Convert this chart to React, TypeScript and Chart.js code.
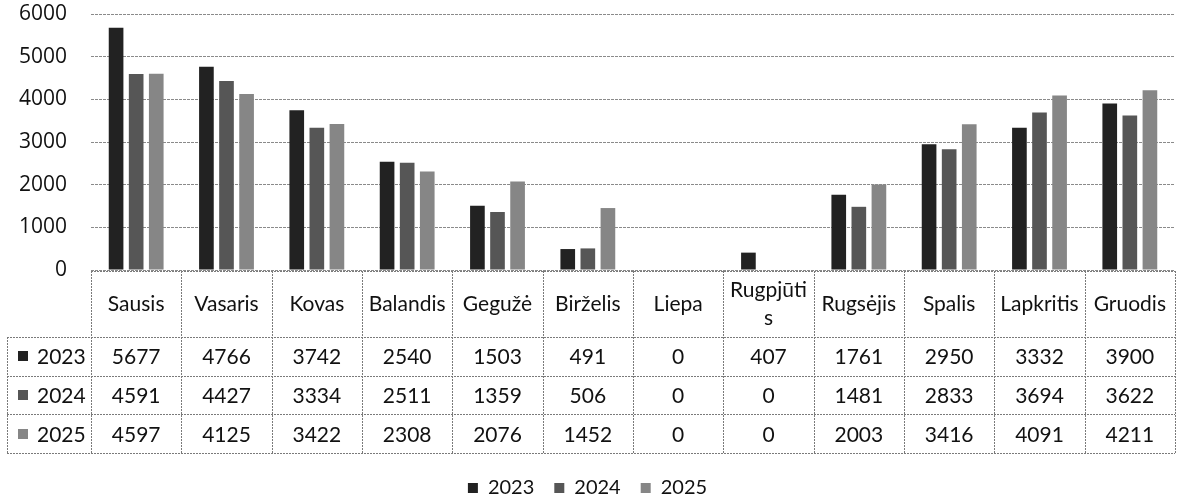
import React, { useEffect, useRef } from "react";
import { Chart, registerables } from "chart.js";

Chart.register(...registerables);

const categories = ["Sausis", "Vasaris", "Kovas", "Balandis", "Gegužė", "Birželis", "Liepa", "Rugpjūtis", "Rugsėjis", "Spalis", "Lapkritis", "Gruodis"];
const seriesNames = ["2023", "2024", "2025"];
const values2023 = [5677, 4766, 3742, 2540, 1503, 491, 0, 407, 1761, 2950, 3332, 3900];
const values2024 = [4591, 4427, 3334, 2511, 1359, 506, 0, 0, 1481, 2833, 3694, 3622];
const values2025 = [4597, 4125, 3422, 2308, 2076, 1452, 0, 0, 2003, 3416, 4091, 4211];
const yTicks = [0, 1000, 2000, 3000, 4000, 5000, 6000];

const seriesValues = [values2023, values2024, values2025];
const seriesColors = ["#222222", "#565656", "#868686"];

const TEXT = "#111111";
const TABLE_FONT = "21px Lato";
const LAYOUT_PAD_BOTTOM = -9;
const PLOT_BOTTOM = 270;

function wrapChars(ctx: CanvasRenderingContext2D, text: string, maxW: number): string[] {
  if (ctx.measureText(text).width <= maxW) return [text];
  const lines: string[] = [];
  let cur = "";
  for (const ch of Array.from(text)) {
    if (cur && ctx.measureText(cur + ch).width > maxW) {
      lines.push(cur);
      cur = ch;
    } else {
      cur += ch;
    }
  }
  if (cur) lines.push(cur);
  return lines;
}

const dataTablePlugin = {
  id: "dataTable",
  afterDraw(chart: any) {
    const { ctx, chartArea } = chart;
    const xs = chart.scales.x;
    const n = categories.length;
    const colW = (chartArea.right - chartArea.left) / n;
    const top = chartArea.bottom + 1;
    const headerBottom = top + 66;
    const rowH = 38.7;
    const tableLeft = 7;
    const tableBottom = headerBottom + rowH * seriesNames.length;
    const right = chartArea.right;

    ctx.save();
    ctx.strokeStyle = "#7a7a7a";
    ctx.lineWidth = 1;
    ctx.setLineDash([2, 1]);
    const hline = (x1: number, x2: number, y: number) => {
      ctx.beginPath();
      ctx.moveTo(x1, Math.round(y) + 0.5);
      ctx.lineTo(x2, Math.round(y) + 0.5);
      ctx.stroke();
    };
    const vline = (x: number, y1: number, y2: number) => {
      ctx.beginPath();
      ctx.moveTo(Math.round(x) + 0.5, y1);
      ctx.lineTo(Math.round(x) + 0.5, y2);
      ctx.stroke();
    };
    hline(chartArea.left, right, top);
    for (let r = 0; r <= seriesNames.length; r++) {
      hline(tableLeft, right, headerBottom + r * rowH);
    }
    vline(tableLeft, headerBottom, tableBottom);
    for (let i = 0; i <= n; i++) {
      const x = i < n ? xs.getPixelForTick(i) - colW / 2 : xs.getPixelForTick(n - 1) + colW / 2;
      vline(x, top, tableBottom);
    }
    ctx.setLineDash([]);

    ctx.fillStyle = TEXT;
    ctx.font = TABLE_FONT;
    ctx.textAlign = "center";
    ctx.textBaseline = "middle";
    // header (category names)
    categories.forEach((cat, i) => {
      const cx = xs.getPixelForTick(i);
      const lines = wrapChars(ctx, cat, colW - 6);
      const lh = 28;
      const cy = (top + headerBottom) / 2;
      lines.forEach((ln, k) => {
        ctx.fillText(ln, cx, cy + (k - (lines.length - 1) / 2) * lh);
      });
    });
    // series rows
    seriesNames.forEach((name, r) => {
      const cy = headerBottom + rowH * (r + 0.5);
      ctx.fillStyle = seriesColors[r];
      ctx.fillRect(18, Math.round(cy - 5), 10, 10);
      ctx.fillStyle = TEXT;
      ctx.textAlign = "left";
      ctx.fillText(name, 37, cy + 1);
      ctx.textAlign = "center";
      seriesValues[r].forEach((v, i) => {
        ctx.fillText(String(v), xs.getPixelForTick(i), cy + 1);
      });
    });
    ctx.restore();
  },
};

export default function App() {
  const canvasRef = useRef<HTMLCanvasElement | null>(null);

  useEffect(() => {
    const canvas = canvasRef.current;
    if (!canvas) return;
    const chart = new Chart(canvas, {
      type: "bar",
      data: {
        labels: categories,
        datasets: seriesNames.map((name, i) => ({
          label: name,
          data: seriesValues[i],
          backgroundColor: seriesColors[i],
          borderWidth: 0,
          categoryPercentage: 0.667,
          barPercentage: 0.73,
        })),
      },
      options: {
        responsive: false,
        animation: false,
        devicePixelRatio: 1,
        layout: { padding: { top: 14, right: 10, left: 0, bottom: LAYOUT_PAD_BOTTOM } },
        plugins: {
          tooltip: { enabled: false },
          legend: {
            position: "bottom",
            labels: {
              boxWidth: 10,
              boxHeight: 10,
              padding: 20,
              color: TEXT,
              font: { family: "Lato", size: 20 },
            },
          },
        },
        scales: {
          x: {
            display: true,
            grid: { display: false },
            border: { display: false },
            ticks: { display: false },
            afterFit: (s: any) => {
              const legendH = s.chart.legend ? s.chart.legend.height : 0;
              s.height = s.chart.height - LAYOUT_PAD_BOTTOM - legendH - PLOT_BOTTOM;
            },
          },
          y: {
            min: 0,
            max: 6000,
            border: { display: false, dash: [3, 1] },
            grid: {
              color: "#8a8a8a",
              lineWidth: 1,
              drawTicks: true,
              tickLength: 24,
              tickColor: "rgba(0,0,0,0)",
            },
            ticks: {
              stepSize: 1000,
              padding: 0,
              color: TEXT,
              font: { family: "Open Sans", size: 21 },
              callback: (v: any) => (yTicks.includes(Number(v)) ? String(v) : ""),
            },
            afterFit: (s: any) => {
              s.width = 91;
            },
          },
        },
      },
      plugins: [dataTablePlugin],
    } as any);
    return () => chart.destroy();
  }, []);

  return (
    <div style={{ position: "fixed", left: 0, top: 0, width: 1185, height: 499, background: "#fff" }}>
      <canvas ref={canvasRef} width={1185} height={499} style={{ display: "block" }} />
    </div>
  );
}
